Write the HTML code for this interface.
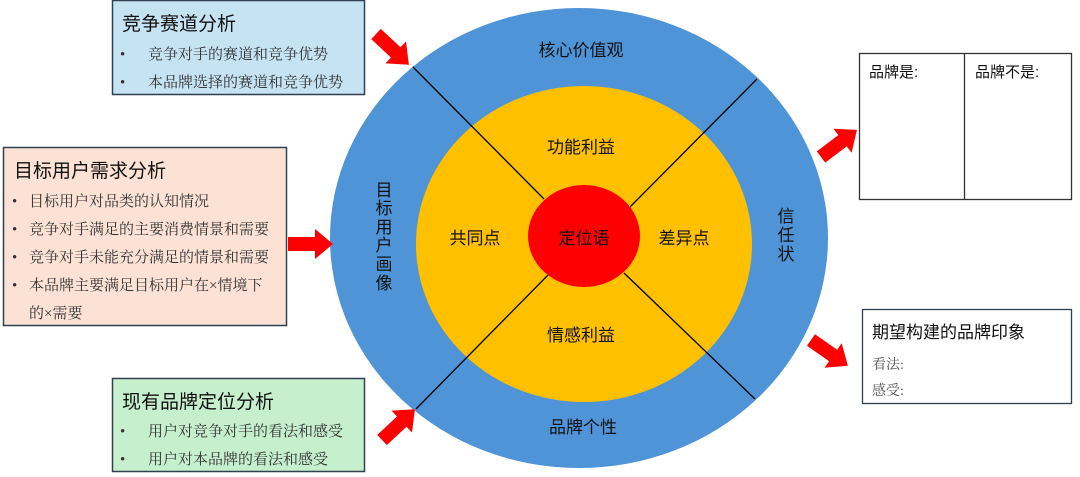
<!DOCTYPE html>
<html><head><meta charset="utf-8"><style>
body{margin:0;width:1080px;height:477px;background:#fff;overflow:hidden;font-family:"Liberation Sans","Noto Sans CJK SC",sans-serif;}
</style></head><body>
<svg width="1080" height="477" xmlns="http://www.w3.org/2000/svg" style="position:absolute;left:0;top:0" font-family="Liberation Sans, Noto Sans CJK SC, sans-serif">
<defs><polygon id="ar" points="0,-7 27,-7 27,-15 45,0 27,15 27,7 0,7" fill="#ff0000"/></defs>
<ellipse cx="579" cy="238" rx="249" ry="230" fill="#4f94d6"/>
<ellipse cx="584" cy="244" rx="168" ry="158" fill="#ffc000"/>
<line x1="413" y1="67" x2="544" y2="199" stroke="#000" stroke-width="1.3"/>
<line x1="624" y1="273" x2="755" y2="399" stroke="#000" stroke-width="1.3"/>
<line x1="757" y1="79" x2="630" y2="207" stroke="#000" stroke-width="1.3"/>
<line x1="550" y1="273" x2="416" y2="409" stroke="#000" stroke-width="1.3"/>
<ellipse cx="584" cy="236" rx="56" ry="51" fill="#ff0000"/>
<g font-size="17" fill="#111" text-anchor="middle">
<text x="581" y="56">核心价值观</text>
<text x="581" y="153">功能利益</text>
<text x="581" y="341">情感利益</text>
<text x="475" y="244">共同点</text>
<text x="584" y="244">定位语</text>
<text x="684" y="244">差异点</text>
<text x="583" y="433">品牌个性</text>
<text x="384" y="196">目</text><text x="384" y="214">标</text><text x="384" y="233">用</text><text x="384" y="251">户</text><text x="384" y="270">画</text><text x="384" y="289">像</text>
<text x="786" y="222">信</text><text x="786" y="241">任</text><text x="786" y="260">状</text>
</g>
<rect x="112.5" y="0.5" width="252" height="94" fill="#c5e3f3" stroke="#2f4050" stroke-width="1.5"/>
<text x="122" y="30" font-size="19" fill="#111">竞争赛道分析</text>
<g font-size="15" fill="#333" font-family="Liberation Serif, Noto Serif CJK SC, serif"><text x="120" y="59">•</text><text x="148" y="59">竞争对手的赛道和竞争优势</text>
<text x="120" y="87">•</text><text x="148" y="87">本品牌选择的赛道和竞争优势</text></g>
<rect x="3.5" y="147.5" width="283" height="178" fill="#fbe2d5" stroke="#2f4050" stroke-width="1.5"/>
<text x="14" y="177" font-size="19" fill="#111">目标用户需求分析</text>
<g font-size="15" fill="#333" font-family="Liberation Serif, Noto Serif CJK SC, serif">
<text x="12" y="206">•</text><text x="29" y="206">目标用户对品类的认知情况</text>
<text x="12" y="234">•</text><text x="29" y="234">竞争对手满足的主要消费情景和需要</text>
<text x="12" y="262">•</text><text x="29" y="262">竞争对手未能充分满足的情景和需要</text>
<text x="12" y="290">•</text><text x="29" y="290">本品牌主要满足目标用户在×情境下</text>
<text x="29" y="318">的×需要</text></g>
<rect x="112.5" y="378.5" width="252" height="93" fill="#c6efce" stroke="#2f4050" stroke-width="1.5"/>
<text x="122" y="408" font-size="19" fill="#111">现有品牌定位分析</text>
<g font-size="15" fill="#333" font-family="Liberation Serif, Noto Serif CJK SC, serif"><text x="120" y="436">•</text><text x="148" y="436">用户对竞争对手的看法和感受</text>
<text x="120" y="464">•</text><text x="148" y="464">用户对本品牌的看法和感受</text></g>
<rect x="859.5" y="53.5" width="212" height="146" fill="#fff" stroke="#333" stroke-width="1.3"/>
<line x1="964.5" y1="53" x2="964.5" y2="200" stroke="#333" stroke-width="1.3"/>
<g font-size="15" fill="#111"><text x="869" y="77">品牌是:</text><text x="975" y="77">品牌不是:</text></g>
<rect x="862.5" y="309.5" width="209" height="94" fill="#fff" stroke="#2f4050" stroke-width="1.3"/>
<text x="872" y="338" font-size="17" fill="#111">期望构建的品牌印象</text>
<g font-size="14" fill="#555" font-family="Liberation Serif, Noto Serif CJK SC, serif"><text x="872" y="369">看法:</text><text x="872" y="395">感受:</text></g>
<use href="#ar" transform="translate(376,34) rotate(43)"/>
<use href="#ar" transform="translate(288,244)"/>
<use href="#ar" transform="translate(382,440) rotate(-43)"/>
<use href="#ar" transform="translate(821,157) rotate(-37)"/>
<use href="#ar" transform="translate(811,340) rotate(35)"/>
</svg>
</body></html>
